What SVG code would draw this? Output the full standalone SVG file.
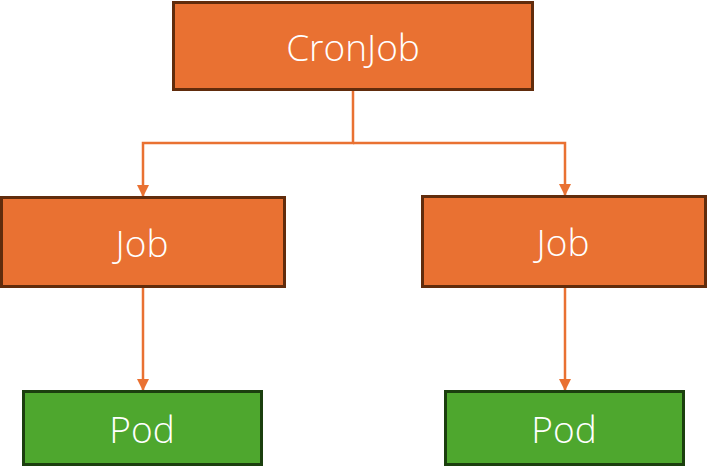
<svg xmlns="http://www.w3.org/2000/svg" width="707" height="474" viewBox="0 0 707 474">
<style>
.o{fill:#E97132;stroke:#612C0C;stroke-width:3}
.g{fill:#4EA72E;stroke:#1B3F0E;stroke-width:3}
.t{font-family:"Open Sans","Noto Sans",sans-serif;font-size:37px;font-weight:300;fill:#fff;text-anchor:middle;dominant-baseline:central}
.c{fill:none;stroke:#E97132;stroke-width:2.5}
</style>
<defs>
<marker id="b" markerWidth="12" markerHeight="12" refX="12" refY="6" orient="auto" markerUnits="userSpaceOnUse" viewBox="0 0 12 12">
<path d="M0,0 L12,6 L0,12 Z" fill="#E97132"/>
</marker>
</defs>
<g id="connectors">
<path class="c" d="M353,90 V143 H143 V197" marker-end="url(#b)"/>
<path class="c" d="M353,143 H565 V196" marker-end="url(#b)"/>
<path class="c" d="M143,287 V391" marker-end="url(#b)"/>
<path class="c" d="M565,287 V391" marker-end="url(#b)"/>
</g>
<g id="cronjob"><rect class="o" x="173.5" y="2.5" width="359" height="87"/><text class="t" x="353" y="46">CronJob</text></g>
<g id="job1"><rect class="o" x="1.5" y="197.5" width="283" height="89"/><text class="t" x="142" y="242">Job</text></g>
<g id="job2"><rect class="o" x="422.5" y="196.5" width="283" height="90"/><text class="t" x="563" y="241">Job</text></g>
<g id="pod1"><rect class="g" x="23.5" y="391.5" width="238" height="73"/><text class="t" x="142" y="428">Pod</text></g>
<g id="pod2"><rect class="g" x="445.5" y="391.5" width="238" height="73"/><text class="t" x="564" y="428">Pod</text></g>
</svg>
